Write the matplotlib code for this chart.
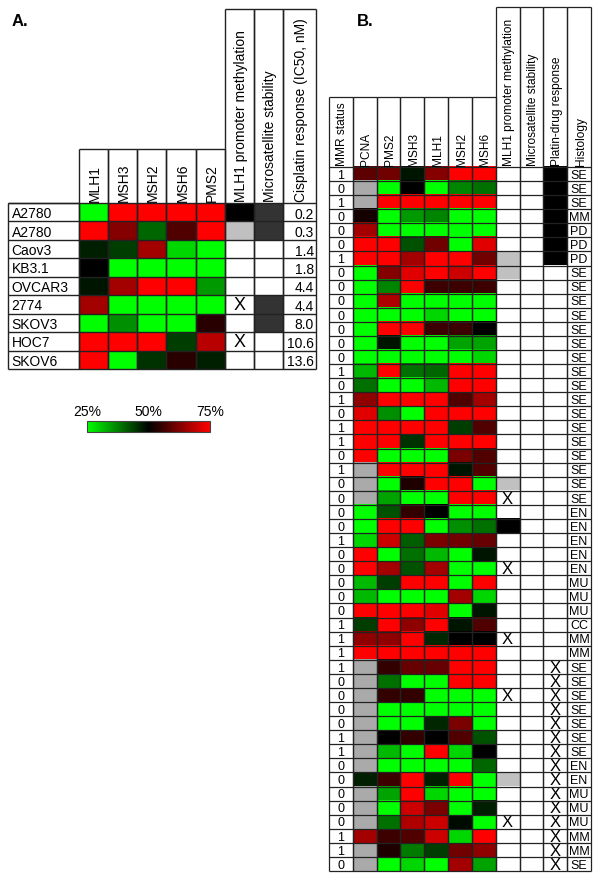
import numpy as np
import matplotlib
matplotlib.use('Agg')
import matplotlib.pyplot as plt
from matplotlib.colors import LinearSegmentedColormap, ListedColormap, Normalize
from matplotlib.cm import ScalarMappable

plt.rcParams['font.family'] = ['Liberation Sans', 'DejaVu Sans']

# ---------------- panel A : cell lines ----------------
a_lines = ['A2780', 'A2780', 'Caov3', 'KB3.1', 'OVCAR3', '2774', 'SKOV3', 'HOC7', 'SKOV6']
a_genes = ['MLH1', 'MSH3', 'MSH2', 'MSH6', 'PMS2']
a_expr = [[25, 75, 75, 75, 75],
          [75, 63, 40, 58, 75],
          [47, 44, 66, 29, 25],
          [50, 25, 25, 25, 25],
          [48, 66, 75, 75, 35],
          [66, 25, 25, 25, 25],
          [25, 36, 25, 25, 54],
          [75, 75, 75, 44, 68],
          [75, 25, 45, 54, 47]]
a_meth = ['M', 'P', '', '', '', 'X', '', 'X', '']   # M=methylated, P=partial, X=marked
a_msi = [1, 1, 0, 0, 0, 1, 1, 0, 0]
a_cis = [0.2, 0.3, 1.4, 1.8, 4.4, 4.4, 8.0, 10.6, 13.6]
a_extra = ['MLH1 promoter methylation', 'Microsatellite stability', 'Cisplatin response (IC50, nM)']

# ---------------- panel B : tumours ----------------
b_genes = ['PCNA', 'PMS2', 'MSH3', 'MLH1', 'MSH2', 'MSH6']
nan = np.nan
b_expr = [[59, 61, 48, 63, 75, 75],
          [nan, 25, 50, 25, 37, 39],
          [nan, 75, 75, 75, 75, 75],
          [52, 25, 35, 37, 25, 25],
          [66, 25, 25, 25, 25, 25],
          [75, 75, 42, 61, 25, 72],
          [75, 75, 66, 75, 75, 61],
          [25, 63, 72, 75, 70, 75],
          [25, 37, 75, 56, 56, 56],
          [25, 67, 25, 25, 25, 25],
          [25, 25, 25, 29, 25, 25],
          [25, 75, 75, 56, 56, 50],
          [25, 48, 25, 25, 34, 34],
          [25, 25, 25, 25, 25, 29],
          [32, 75, 39, 40, 75, 75],
          [39, 25, 25, 32, 75, 75],
          [64, 75, 75, 75, 58, 66],
          [72, 36, 25, 75, 75, 75],
          [75, 75, 75, 75, 44, 58],
          [75, 75, 45, 75, 75, 75],
          [75, 25, 25, 25, 62, 58],
          [nan, 75, 75, 75, 48, 58],
          [nan, 25, 53, 75, 75, 25],
          [nan, 34, 25, 25, 75, 75],
          [25, 42, 55, 50, 25, 25],
          [25, 75, 75, 25, 36, 39],
          [29, 70, 41, 62, 61, 60],
          [75, 25, 39, 32, 25, 48],
          [75, 66, 42, 66, 25, 25],
          [32, 44, 75, 75, 25, 75],
          [32, 25, 25, 25, 66, 29],
          [75, 75, 75, 72, 25, 48],
          [44, 75, 64, 75, 48, 58],
          [64, 64, 75, 46, 50, 50],
          [75, 75, 75, 75, 75, 75],
          [nan, 55, 60, 60, 75, 75],
          [nan, 39, 25, 25, 75, 75],
          [nan, 55, 55, 25, 25, 25],
          [nan, 25, 25, 25, 25, 25],
          [nan, 25, 25, 46, 62, 25],
          [nan, 50, 55, 50, 58, 42],
          [nan, 32, 25, 75, 29, 50],
          [nan, 25, 25, 25, 25, 40],
          [47, 56, 75, 47, 75, 25],
          [nan, 34, 75, 29, 25, 25],
          [nan, 25, 70, 62, 25, 47],
          [nan, 39, 67, 70, 49, 25],
          [66, 56, 58, 70, 29, 75],
          [nan, 53, 38, 44, 61, 64],
          [nan, 25, 29, 25, 66, 34]]
b_mmr = [1, 0, 1, 0, 0, 0, 1, 0, 0, 0,
         0, 0, 0, 0, 1, 0, 1, 0, 1, 1,
         0, 1, 0, 0, 0, 0, 1, 0, 0, 0,
         0, 0, 1, 1, 1, 1, 0, 0, 0, 0,
         1, 1, 0, 0, 0, 0, 0, 1, 1, 0]
b_meth = ['', '', '', '', '', '', 'P', 'P', '', '',
          '', '', '', '', '', '', '', '', '', '',
          '', '', 'P', 'X', '', 'M', '', '', 'X', '',
          '', '', '', 'X', '', '', '', 'X', '', '',
          '', '', '', 'P', '', '', 'X', '', '', '']
b_msi = [0] * 50
b_platin = ['M'] * 7 + [''] * 28 + ['X'] * 15
b_hist = (['SE'] * 3 + ['MM'] + ['PD'] * 3 + ['SE'] * 17 + ['EN'] * 5 + ['MU'] * 3 +
          ['CC'] + ['MM'] * 2 + ['SE'] * 7 + ['EN'] * 2 + ['MU'] * 3 + ['MM'] * 2 + ['SE'])
b_extra = ['MLH1 promoter methylation', 'Microsatellite stability', 'Platin-drug response', 'Histology']

W, H = 600, 879
cmap = LinearSegmentedColormap.from_list('gkr', ['#00ff00', '#000000', '#ff0000'])
cmap.set_bad('#aaaaab')
code_val = {'': 0, 'X': 0, 'P': 1, 'M': 2}
LC = '#222222'


def px_axes(fig, x0, y0, x1, y1):
    ax = fig.add_axes([x0 / W, 1 - y1 / H, (x1 - x0) / W, (y1 - y0) / H])
    ax.axis('off')
    return ax


def draw_table(ax, cols, nrows, lw=1.0):
    # cols: list of (x_left, x_right, header_top)
    xmin = cols[0][0]
    xmax = cols[-1][1]
    ax.hlines(range(nrows + 1), xmin, xmax, colors=LC, lw=lw, clip_on=False, zorder=3)
    for x0, x1, top in cols:
        ax.vlines([x0, x1], top, nrows, colors=LC, lw=lw, clip_on=False, zorder=3)
        ax.hlines(top, x0, x1, colors=LC, lw=lw, clip_on=False, zorder=3)


def code_column(ax, x, codes, colors, xsize, nrows):
    vals = np.array([[code_val[c] if isinstance(c, str) else c] for c in codes])
    ax.imshow(vals, cmap=ListedColormap(colors), vmin=0, vmax=len(colors) - 1,
              extent=(x, x + 1, nrows, 0), aspect='auto', interpolation='nearest')
    for i, c in enumerate(codes):
        if c == 'X':
            ax.text(x + 0.5, i + 0.52, 'X', ha='center', va='center', fontsize=xsize)


def header(ax, xc, y, s, size):
    ax.text(xc, y, s, rotation=90, rotation_mode='anchor', ha='left',
            va='center_baseline', fontsize=size)


fig = plt.figure(figsize=(W / 100, H / 100), dpi=100)

# ----- panel A -----
axA = px_axes(fig, 8, 10, 316, 370)
nA = len(a_lines)
lab_l, cis_r = -2.43, 8.13
axA.set_xlim(lab_l, cis_r)
axA.set_ylim(nA, -10.52)
axA.imshow(np.array(a_expr, dtype=float), cmap=cmap, vmin=25, vmax=75,
           extent=(0, 5, nA, 0), aspect='auto', interpolation='nearest')
code_column(axA, 5, a_meth, ['white', '#c0c0c0', 'black'], 13, nA)
code_column(axA, 6, a_msi, ['white', '#333333'], 13, nA)
colsA = [(lab_l, 0, 0)] + [(j, j + 1, -2.93) for j in range(5)] + \
        [(5, 6, -10.52), (6, 7, -10.52), (7, cis_r, -10.52)]
draw_table(axA, colsA, nA)
for i, name in enumerate(a_lines):
    axA.text(lab_l + 0.12, i + 0.55, name, ha='left', va='center', fontsize=10)
    axA.text(cis_r - 0.08, i + 0.58, '%.1f' % a_cis[i], ha='right', va='center', fontsize=10)
for j, g in enumerate(a_genes + a_extra):
    xc = j + 0.5 if j < 7 else (7 + cis_r) / 2
    header(axA, xc, -0.13, g, 10)

# ----- panel B -----
axB = px_axes(fig, 329, 8, 591, 872)
nB = len(b_hist)
axB.set_xlim(0, 11)
axB.set_ylim(nB, -11.36)
axB.imshow(np.ma.masked_invalid(np.array(b_expr, dtype=float)), cmap=cmap, vmin=25, vmax=75,
           extent=(1, 7, nB, 0), aspect='auto', interpolation='nearest')
code_column(axB, 7, b_meth, ['white', '#c0c0c0', 'black'], 12, nB)
code_column(axB, 8, b_msi, ['white', '#333333'], 12, nB)
code_column(axB, 9, b_platin, ['white', '#c0c0c0', 'black'], 12, nB)
colsB = [(j, j + 1, -4.97) for j in range(7)] + [(j, j + 1, -11.36) for j in range(7, 11)]
draw_table(axB, colsB, nB, lw=0.9)
for i in range(nB):
    axB.text(0.5, i + 0.55, str(b_mmr[i]), ha='center', va='center', fontsize=9)
    axB.text(10.5, i + 0.55, b_hist[i], ha='center', va='center', fontsize=9)
for j, g in enumerate(['MMR status'] + b_genes + b_extra):
    header(axB, j + 0.5, -0.15, g, 8.6)

# ----- colour key -----
cax = fig.add_axes([87 / W, 1 - 433 / H, 123 / W, 11 / H])
cb = fig.colorbar(ScalarMappable(Normalize(25, 75), cmap), cax=cax,
                  orientation='horizontal', ticks=[25, 50, 75])
cax.xaxis.set_ticks_position('top')
cb.set_ticklabels(['25%', '50%', '75%'])
cax.tick_params(length=0, labelsize=10, pad=2)
cb.outline.set_edgecolor('#444444')
cb.outline.set_linewidth(0.8)

fig.text(12 / W, 1 - 22 / H, 'A.', fontsize=12, fontweight='bold', va='center')
fig.text(357 / W, 1 - 21 / H, 'B.', fontsize=12, fontweight='bold', va='center')

fig.savefig('out.png', dpi=100, facecolor='white')
